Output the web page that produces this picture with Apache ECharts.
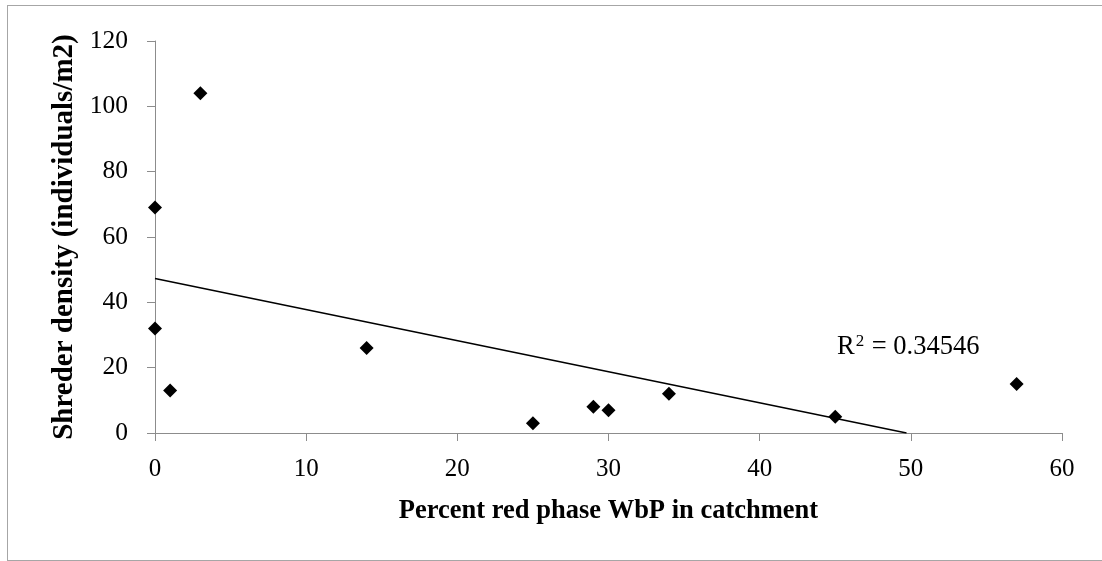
<!DOCTYPE html>
<html>
<head>
<meta charset="utf-8">
<script src="https://cdn.jsdelivr.net/npm/echarts@6/dist/echarts.min.js"></script>
<style>
  html, body { margin: 0; padding: 0; background: #fff; }
  #chart { width: 1102px; height: 561px; }
  #frame { position: absolute; left: 7px; top: 5px; width: 1100px; height: 556px;
           border: 1px solid #a6a6a6; border-right: none; box-sizing: border-box; pointer-events: none; }
</style>
</head>
<body>
<div id="chart"></div>
<div id="frame"></div>
<script>
// Percent of catchment in red-phase whitebark pine vs. shredder density
const redPhasePct = [3, 0, 0, 1, 14, 25, 29, 30, 34, 45, 57];
const shredderDensity = [104, 69, 32, 13, 26, 3, 8, 7, 12, 5, 15];
const xTicks = [0, 10, 20, 30, 40, 50, 60];
const yTicks = [0, 20, 40, 60, 80, 100, 120];

// Ordinary least-squares fit and coefficient of determination
function linearFit(xs, ys) {
  const n = xs.length;
  const mx = xs.reduce((a, b) => a + b, 0) / n;
  const my = ys.reduce((a, b) => a + b, 0) / n;
  let sxy = 0, sxx = 0, syy = 0;
  for (let i = 0; i < n; i++) {
    sxy += (xs[i] - mx) * (ys[i] - my);
    sxx += (xs[i] - mx) ** 2;
    syy += (ys[i] - my) ** 2;
  }
  const slope = sxy / sxx;
  return { slope, intercept: my - slope * mx, r2: (sxy * sxy) / (sxx * syy) };
}
const fit = linearFit(redPhasePct, shredderDensity);
// Trend line runs from x = 0 until it meets the y = 0 baseline
const xEnd = Math.min(xTicks[xTicks.length - 1], -fit.intercept / fit.slope);
const trendLine = [[0, fit.intercept], [xEnd, fit.slope * xEnd + fit.intercept]];

const serif = '"Liberation Serif", "Times New Roman", serif';
const axisGray = '#8c8c8c';

const chart = echarts.init(document.getElementById('chart'));
chart.setOption({
  animation: false,
  grid: { left: 155, right: 40, top: 41, bottom: 128 },
  xAxis: {
    type: 'value',
    min: xTicks[0], max: xTicks[xTicks.length - 1], interval: 10,
    name: 'Percent red phase WbP in catchment',
    nameLocation: 'middle', nameGap: 65,
    nameTextStyle: { fontFamily: serif, fontWeight: 'bold', fontSize: 26.5, color: '#000' },
    axisLine: { lineStyle: { color: axisGray, width: 1 } },
    axisTick: { show: true, length: 8, inside: false, lineStyle: { color: axisGray } },
    axisLabel: { fontFamily: serif, fontSize: 25, color: '#000', margin: 24 },
    splitLine: { show: false }
  },
  yAxis: {
    type: 'value',
    min: yTicks[0], max: yTicks[yTicks.length - 1], interval: 20,
    name: 'Shreder density (individuals/m2)',
    nameLocation: 'middle', nameGap: 75,
    nameTextStyle: { fontFamily: serif, fontWeight: 'bold', fontSize: 29, color: '#000' },
    axisLine: { show: true, lineStyle: { color: axisGray, width: 1 } },
    axisTick: { show: true, length: 8, inside: false, lineStyle: { color: axisGray } },
    axisLabel: { fontFamily: serif, fontSize: 25.5, color: '#000', margin: 27 },
    splitLine: { show: false }
  },
  series: [
    {
      type: 'line',
      data: trendLine,
      showSymbol: false,
      lineStyle: { color: '#000', width: 1.5 },
      silent: true,
      z: 1
    },
    {
      type: 'scatter',
      data: redPhasePct.map((x, i) => [x, shredderDensity[i]]),
      symbol: 'diamond',
      symbolSize: 14,
      itemStyle: { color: '#000', opacity: 1 },
      z: 2
    }
  ],
  graphic: [{
    type: 'text',
    left: 837, top: 333,
    style: {
      text: '{b|R}{s|2}{b| = ' + fit.r2.toFixed(5) + '}',
      rich: {
        b: { fontFamily: serif, fontSize: 26.5, fill: '#000', verticalAlign: 'bottom', lineHeight: 28 },
        s: { fontFamily: serif, fontSize: 17, fill: '#000', verticalAlign: 'top', lineHeight: 28, padding: [0, 1, 10, 1] }
      }
    }
  }]
});
</script>
</body>
</html>
